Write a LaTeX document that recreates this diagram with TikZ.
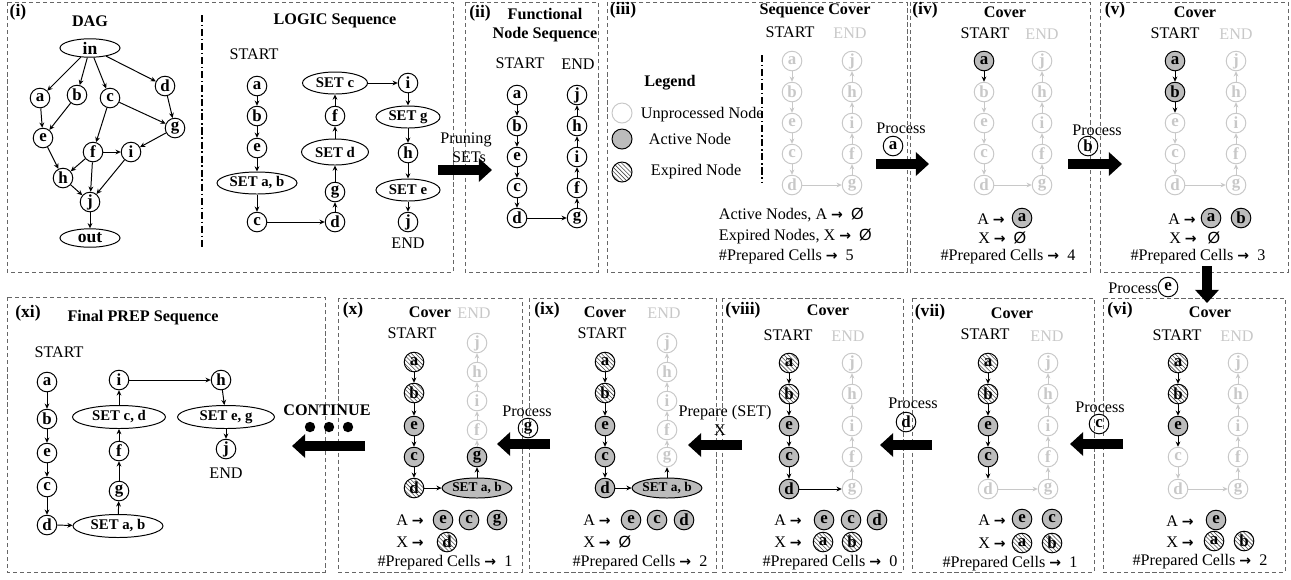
\documentclass[tikz,border=0pt]{standalone}
\usepackage{fontspec}
\setmainfont{Liberation Serif}
\newfontfamily\symfont{Liberation Sans}
\newfontfamily\arrfont{DejaVu Sans}
\usetikzlibrary{arrows.meta,shapes.geometric,patterns}

\definecolor{ugray}{RGB}{200,200,200}
\definecolor{agray}{RGB}{188,188,188}
\newcommand{\noset}{{\symfont Ø}}
\newcommand{\rarr}{{\arrfont\bfseries\fontsize{10}{10}\selectfont →}}

\begin{document}
\begin{tikzpicture}[x=0.25mm, y=-0.25mm,
    nd/.style={circle, draw, line width=0.7pt, minimum size=4.9mm, inner sep=0pt, font=\bfseries\fontsize{12}{12}\selectfont},
    unp/.style={nd, draw=ugray, text=ugray},
    actv/.style={nd, fill=agray},
    expd/.style={nd, pattern=north west lines, pattern color=black!70},
    setn/.style={ellipse, draw, line width=0.7pt, inner sep=0pt, minimum height=5.5mm, font=\bfseries\fontsize{10.5}{10.5}\selectfont},
    lk/.style={line width=0.7pt, -{Stealth[length=1.3mm, width=1.2mm]}},
    ulk/.style={lk, draw=ugray},
    bigarr/.style={line width=2.3mm, -{Triangle[length=3.3mm, width=5.8mm]}},
    panel/.style={draw=black!60, densely dashed, line width=0.5pt},
    sepline/.style={line width=0.8pt, dash pattern=on 5pt off 2pt on 1pt off 2pt},
    plbl/.style={font=\bfseries\fontsize{12.5}{12.5}\selectfont},
    ttl/.style={font=\bfseries\fontsize{11.5}{11.5}\selectfont},
    txt/.style={font=\fontsize{11.5}{11.5}\selectfont},
    utxt/.style={txt, text=ugray}]
  \useasboundingbox (0,0) rectangle (1291,579);

  % panel frames
  \draw[panel] (7,2) rectangle (453,272);
  \draw[panel] (465,2) rectangle (598,272);
  \draw[panel] (607,2) rectangle (907,272);
  \draw[panel] (910,2) rectangle (1090,272);
  \draw[panel] (1100,2) rectangle (1288,272);
  \draw[panel] (7,297) rectangle (325,572);
  \draw[panel] (338,298) rectangle (522,572);
  \draw[panel] (529,298) rectangle (716,572);
  \draw[panel] (722,298) rectangle (903,572);
  \draw[panel] (912,298) rectangle (1094,572);
  \draw[panel] (1103,298) rectangle (1285,572);

  % (i) DAG
  \node[plbl] (L1) at (18,12) {(i)};
  \node[ttl] (Tdag) at (90,21) {DAG};
  \node[setn, minimum width=15mm, minimum height=4.6mm, font=\bfseries\fontsize{12.5}{12.5}\selectfont] (Din) at (90,48) {in};
  \node[nd] (Da) at (40,98) {a};
  \node[nd] (Db) at (77,95) {b};
  \node[nd] (Dc) at (110,98) {c};
  \node[nd] (Dd) at (165,86) {d};
  \node[nd] (Dg) at (175,128) {g};
  \node[nd] (De) at (43,138) {e};
  \node[nd] (Df) at (93,152) {f};
  \node[nd] (Di) at (131,152) {i};
  \node[nd] (Dh) at (63,178) {h};
  \node[nd] (Dj) at (90,202) {j};
  \node[setn, minimum width=15mm, minimum height=4.6mm, font=\bfseries\fontsize{12.5}{12.5}\selectfont] (Dout) at (90,238) {out};
  \draw[lk] (Din) -- (Da);
  \draw[lk] (Din) -- (Db);
  \draw[lk] (Din) -- (Dc);
  \draw[lk] (Din) -- (Dd);
  \draw[lk] (Da) -- (De);
  \draw[lk] (Db) -- (De);
  \draw[lk] (Dc) -- (Df);
  \draw[lk] (Dc) -- (Dg);
  \draw[lk] (Dd) -- (Dg);
  \draw[lk] (De) -- (Dh);
  \draw[lk] (Df) -- (Dh);
  \draw[lk] (Df) -- (Di);
  \draw[lk] (Df) -- (Dj);
  \draw[lk] (Dg) -- (Di);
  \draw[lk] (Dh) -- (Dj);
  \draw[lk] (Di) -- (Dj);
  \draw[lk] (Dj) -- (Dout);
  \draw[sepline] (202,15) -- (202,247);

  % (i) LOGIC sequence
  \node[ttl] (Tlogic) at (335,21) {LOGIC Sequence};
  \node[txt] (Lstart) at (254,54) {START};
  \node[nd] (La) at (257,86) {a};
  \node[nd] (Lb) at (257,116) {b};
  \node[nd] (Le) at (257,148) {e};
  \node[setn, minimum width=20mm] (Lsab) at (257,183) {SET a, b};
  \node[nd] (Lc) at (257,222) {c};
  \node[nd] (Ld) at (335,222) {d};
  \node[nd] (Lg) at (335,192) {g};
  \node[setn, minimum width=16.75mm, minimum height=6.5mm] (Lsd) at (335,152) {SET d};
  \node[nd] (Lf) at (335,116) {f};
  \node[setn, minimum width=16.25mm] (Lsc) at (335,83) {SET c};
  \node[nd] (Li) at (408,83) {i};
  \node[setn, minimum width=16mm] (Lsg) at (408,117) {SET g};
  \node[nd] (Lh) at (408,153) {h};
  \node[setn, minimum width=16mm] (Lse) at (408,190) {SET e};
  \node[nd] (Lj) at (408,222) {j};
  \node[txt] (Lend) at (408,243) {END};
  \draw[lk] (La) -- (Lb);
  \draw[lk] (Lb) -- (Le);
  \draw[lk] (Le) -- (Lsab);
  \draw[lk] (Lsab) -- (Lc);
  \draw[lk] (Lc) -- (Ld);
  \draw[lk] (Ld) -- (Lg);
  \draw[lk] (Lg) -- (Lsd);
  \draw[lk] (Lsd) -- (Lf);
  \draw[lk] (Lf) -- (Lsc);
  \draw[lk] (Lsc) -- (Li);
  \draw[lk] (Li) -- (Lsg);
  \draw[lk] (Lsg) -- (Lh);
  \draw[lk] (Lh) -- (Lse);
  \draw[lk] (Lse) -- (Lj);

  % pruning
  \node[txt] (Tprune) at (466,140) {Pruning};
  \node[txt] (Tsets) at (469,157) {SETs};
  \coordinate (pr1) at (438,170);
  \coordinate (pr2) at (492,170);
  \draw[bigarr] (pr1) -- (pr2);

  % (ii)
  \node[plbl] (L2) at (480,13) {(ii)};
  \node[ttl, align=center] (Tfun) at (545,25) {Functional\\[2pt]Node Sequence};
  \node[txt] (Fstart) at (520,63) {START};
  \node[txt] (Fend) at (578,64) {END};
  \foreach \n/\y in {a/95,b/126,e/157,c/188,d/218}
    \node[nd] (F\n) at (517,\y) {\n};
  \foreach \n/\y in {j/95,h/126,i/157,f/188,g/218}
    \node[nd] (F\n) at (577,\y) {\n};
  \foreach \u/\v in {a/b,b/e,e/c,c/d,d/g,g/f,f/i,i/h,h/j}
    \draw[lk] (F\u) -- (F\v);

  % (iii)
  \node[plbl] (L3) at (623,10) {(iii)};
  \node[ttl] (Tseq) at (815,11) {Sequence Cover};
  \node[txt] (S3) at (790,32) {START};
  \node[utxt] (E3) at (850,33) {END};
  \foreach \n/\y in {a/61,b/92,e/123,c/154,d/185}
    \node[unp] (C3\n) at (792,\y) {\n};
  \foreach \n/\y in {j/61,h/92,i/123,f/154,g/185}
    \node[unp] (C3\n) at (852,\y) {\n};
  \foreach \u/\v in {a/b,b/e,e/c,c/d,d/g,g/f,f/i,i/h,h/j}
    \draw[ulk] (C3\u) -- (C3\v);
  \draw[sepline] (762,55) -- (762,182);
  \node[ttl] (Tleg) at (670,83) {Legend};
  \node[nd, draw=ugray, minimum size=5mm] (G1) at (622,113) {};
  \node[nd, fill=agray, minimum size=5mm] (G2) at (622,139) {};
  \node[nd, pattern=north west lines, pattern color=black!70, minimum size=5mm] (G3) at (622,172) {};
  \node[txt, anchor=west] (G1t) at (636,115) {Unprocessed Node};
  \node[txt, anchor=west] (G2t) at (644,139) {Active Node};
  \node[txt, anchor=west] (G3t) at (646,172) {Expired Node};
  \node[txt, anchor=west] (A3) at (714,215) {Active Nodes, A \rarr\enspace\noset};
  \node[txt, anchor=west] (X3) at (714,236) {Expired Nodes, X \rarr\enspace\noset};
  \node[txt, anchor=west] (P3) at (714,257) {\#Prepared Cells \rarr\enspace 5};

  % process a
  \node[txt] (Ta) at (901,128) {Process};
  \node[nd] (Pa) at (893,146) {a};
  \coordinate (pa1) at (876,164);
  \coordinate (pa2) at (929,164);
  \draw[bigarr] (pa1) -- (pa2);

  % (iv)
  \node[plbl] (L4) at (925,10) {(iv)};
  \node[ttl] (T4) at (1005,12) {Cover};
  \node[txt] (S4) at (985,33) {START};
  \node[utxt] (E4) at (1042,34) {END};
  \foreach \n/\y/\s in {a/61/actv,b/92/unp,e/123/unp,c/154/unp,d/185/unp}
    \node[\s] (C4\n) at (984,\y) {\n};
  \foreach \n/\y in {j/61,h/92,i/123,f/154,g/185}
    \node[unp] (C4\n) at (1042,\y) {\n};
  \foreach \u/\v/\s in {a/b/lk,b/e/ulk,e/c/ulk,c/d/ulk,d/g/ulk,g/f/ulk,f/i/ulk,i/h/ulk,h/j/ulk}
    \draw[\s] (C4\u) -- (C4\v);
  \node[txt] (A4) at (991,219) {A \rarr};
  \node[actv] (A4a) at (1022,218) {a};
  \node[txt] (X4) at (992,238) {X \rarr};
  \node[txt] (X4o) at (1020,238) {\noset};
  \node[txt] (P4) at (1008,257) {\#Prepared Cells \rarr\enspace 4};

  % process b
  \node[txt] (Tb) at (1097,130) {Process};
  \node[nd] (Pb) at (1088,146) {b};
  \coordinate (pb1) at (1068,164);
  \coordinate (pb2) at (1122,164);
  \draw[bigarr] (pb1) -- (pb2);

  % (v)
  \node[plbl] (L5) at (1115,10) {(v)};
  \node[ttl] (T5) at (1195,12) {Cover};
  \node[txt] (S5) at (1175,33) {START};
  \node[utxt] (E5) at (1236,34) {END};
  \foreach \n/\y/\s in {a/61/actv,b/92/actv,e/123/unp,c/154/unp,d/185/unp}
    \node[\s] (C5\n) at (1175,\y) {\n};
  \foreach \n/\y in {j/61,h/92,i/123,f/154,g/185}
    \node[unp] (C5\n) at (1236,\y) {\n};
  \foreach \u/\v/\s in {a/b/lk,b/e/lk,e/c/ulk,c/d/ulk,d/g/ulk,g/f/ulk,f/i/ulk,i/h/ulk,h/j/ulk}
    \draw[\s] (C5\u) -- (C5\v);
  \node[txt] (A5) at (1182,219) {A \rarr};
  \node[actv] (A5a) at (1211,218) {a};
  \node[actv] (A5b) at (1241,218) {b};
  \node[txt] (X5) at (1183,238) {X \rarr};
  \node[txt] (X5o) at (1214,238) {\noset};
  \node[txt] (P5) at (1198,257) {\#Prepared Cells \rarr\enspace 3};

  % process e
  \node[txt] (Te) at (1133,288) {Process};
  \node[nd] (Pe) at (1168,287) {e};
  \coordinate (pe1) at (1207,266);
  \coordinate (pe2) at (1207,303);
  \draw[bigarr] (pe1) -- (pe2);

  % (vi)
  \node[plbl] (L6) at (1120,310) {(vi)};
  \node[ttl] (T6) at (1210,312) {Cover};
  \node[txt] (S6) at (1177,335) {START};
  \node[utxt] (E6) at (1237,336) {END};
  \foreach \n/\y/\s in {a/363/expd,b/394/expd,e/426/actv,c/457/unp,d/489/unp}
    \node[\s] (C6\n) at (1178,\y) {\n};
  \foreach \n/\y in {j/363,h/394,i/426,f/457,g/489}
    \node[unp] (C6\n) at (1238,\y) {\n};
  \foreach \u/\v/\s in {a/b/lk,b/e/lk,e/c/lk,c/d/ulk,d/g/ulk,g/f/ulk,f/i/ulk,i/h/ulk,h/j/ulk}
    \draw[\s] (C6\u) -- (C6\v);
  \node[txt] (A6) at (1180,521) {A \rarr};
  \node[actv] (A6e) at (1216,520) {e};
  \node[txt] (X6) at (1180,542) {X \rarr};
  \node[expd] (X6a) at (1214,541) {a};
  \node[expd] (X6b) at (1244,541) {b};
  \node[txt] (P6) at (1200,562) {\#Prepared Cells \rarr\enspace 2};

  % process c
  \node[txt] (Tc) at (1100,407) {Process};
  \node[nd] (Pc) at (1099,424) {c};
  \coordinate (pc1) at (1123,444);
  \coordinate (pc2) at (1070,444);
  \draw[bigarr] (pc1) -- (pc2);

  % (vii)
  \node[plbl] (L7) at (930,312) {(vii)};
  \node[ttl] (T7) at (1012,313) {Cover};
  \node[txt] (S7) at (985,334) {START};
  \node[utxt] (E7) at (1047,336) {END};
  \foreach \n/\y/\s in {a/363/expd,b/394/expd,e/426/actv,c/457/actv,d/489/unp}
    \node[\s] (C7\n) at (988,\y) {\n};
  \foreach \n/\y in {j/363,h/394,i/426,f/457,g/489}
    \node[unp] (C7\n) at (1048,\y) {\n};
  \foreach \u/\v/\s in {a/b/lk,b/e/lk,e/c/lk,c/d/lk,d/g/ulk,g/f/ulk,f/i/ulk,i/h/ulk,h/j/ulk}
    \draw[\s] (C7\u) -- (C7\v);
  \node[txt] (A7) at (992,520) {A \rarr};
  \node[actv] (A7e) at (1022,519) {e};
  \node[actv] (A7c) at (1052,519) {c};
  \node[txt] (X7) at (992,543) {X \rarr};
  \node[expd] (X7a) at (1022,543) {a};
  \node[expd] (X7b) at (1052,543) {b};
  \node[txt] (P7) at (1010,564) {\#Prepared Cells \rarr\enspace 1};

  % process d
  \node[txt] (Td) at (913,403) {Process};
  \node[nd] (Pd) at (906,422) {d};
  \coordinate (pd1) at (932,445);
  \coordinate (pd2) at (880,445);
  \draw[bigarr] (pd1) -- (pd2);

  % (viii)
  \node[plbl] (L8) at (743,310) {(viii)};
  \node[ttl] (T8) at (828,310) {Cover};
  \node[txt] (S8) at (788,335) {START};
  \node[utxt] (E8) at (848,336) {END};
  \foreach \n/\y/\s in {a/363/expd,b/394/expd,e/426/actv,c/457/actv,d/489/actv}
    \node[\s] (C8\n) at (789,\y) {\n};
  \foreach \n/\y in {j/363,h/394,i/426,f/457,g/489}
    \node[unp] (C8\n) at (852,\y) {\n};
  \foreach \u/\v/\s in {a/b/lk,b/e/lk,e/c/lk,c/d/lk,d/g/lk,g/f/ulk,f/i/ulk,i/h/ulk,h/j/ulk}
    \draw[\s] (C8\u) -- (C8\v);
  \node[txt] (A8) at (788,520) {A \rarr};
  \node[actv] (A8e) at (824,520) {e};
  \node[actv] (A8c) at (851,520) {c};
  \node[actv] (A8d) at (877,520) {d};
  \node[txt] (X8) at (788,542) {X \rarr};
  \node[expd] (X8a) at (823,542) {a};
  \node[expd] (X8b) at (852,542) {b};
  \node[txt] (P8) at (830,563) {\#Prepared Cells \rarr\enspace 0};

  % prepare set
  \node[txt] (Tp) at (725,413) {Prepare (SET)};
  \node[txt] (Tx) at (720,430) {X};
  \coordinate (pp1) at (742,445);
  \coordinate (pp2) at (688,445);
  \draw[bigarr] (pp1) -- (pp2);

  % (ix)
  \node[plbl] (L9) at (547,310) {(ix)};
  \node[ttl] (T9) at (605,312) {Cover};
  \node[utxt] (E9) at (664,313) {END};
  \node[txt] (S9) at (602,333) {START};
  \foreach \n/\y/\s in {a/362/expd,b/393/expd,e/426/actv,c/457/actv,d/488/actv}
    \node[\s] (C9\n) at (605,\y) {\n};
  \foreach \n/\y in {j/343,h/372,i/401,f/430,g/457}
    \node[unp] (C9\n) at (667,\y) {\n};
  \node[setn, fill=agray, minimum width=15.75mm, minimum height=5mm, font=\bfseries\fontsize{9.5}{9.5}\selectfont] (C9s) at (667,488) {SET a, b};
  \foreach \u/\v/\s in {a/b/lk,b/e/lk,e/c/lk,c/d/lk,d/s/lk,s/g/lk,g/f/ulk,f/i/ulk,i/h/ulk,h/j/ulk}
    \draw[\s] (C9\u) -- (C9\v);
  \node[txt] (A9) at (597,520) {A \rarr};
  \node[actv] (A9e) at (631,520) {e};
  \node[actv] (A9c) at (657,520) {c};
  \node[actv] (A9d) at (684,520) {d};
  \node[txt] (X9) at (597,542) {X \rarr};
  \node[txt] (X9o) at (625,542) {\noset};
  \node[txt] (P9) at (640,563) {\#Prepared Cells \rarr\enspace 2};

  % process g
  \node[txt] (Tg) at (527,411) {Process};
  \node[nd] (Pg) at (528,428) {g};
  \coordinate (pg1) at (550,444);
  \coordinate (pg2) at (497,444);
  \draw[bigarr] (pg1) -- (pg2);

  % (x)
  \node[plbl] (L10) at (353,310) {(x)};
  \node[ttl] (T10) at (430,312) {Cover};
  \node[utxt] (E10) at (474,313) {END};
  \node[txt] (S10) at (412,333) {START};
  \foreach \n/\y/\s in {a/362/expd,b/393/expd,e/426/actv,c/457/actv,d/488/expd}
    \node[\s] (C10\n) at (414,\y) {\n};
  \foreach \n/\y/\s in {j/343/unp,h/372/unp,i/401/unp,f/430/unp,g/457/actv}
    \node[\s] (C10\n) at (477,\y) {\n};
  \node[setn, fill=agray, minimum width=15.75mm, minimum height=5mm, font=\bfseries\fontsize{9.5}{9.5}\selectfont] (C10s) at (477,488) {SET a, b};
  \foreach \u/\v/\s in {a/b/lk,b/e/lk,e/c/lk,c/d/lk,d/s/lk,s/g/lk,g/f/ulk,f/i/ulk,i/h/ulk,h/j/ulk}
    \draw[\s] (C10\u) -- (C10\v);
  \node[txt] (A10) at (410,520) {A \rarr};
  \node[actv] (A10e) at (443,520) {e};
  \node[actv] (A10c) at (469,520) {c};
  \node[actv] (A10g) at (497,520) {g};
  \node[txt] (X10) at (410,542) {X \rarr};
  \node[expd] (X10d) at (447,542) {d};
  \node[txt] (P10) at (445,563) {\#Prepared Cells \rarr\enspace 1};

  % continue
  \node[ttl] (Tcont) at (327,410) {CONTINUE};
  \node[circle, fill, inner sep=0pt, minimum size=2.6mm] (dot1) at (310,427) {};
  \node[circle, fill, inner sep=0pt, minimum size=2.6mm] (dot2) at (329,427) {};
  \node[circle, fill, inner sep=0pt, minimum size=2.6mm] (dot3) at (348,427) {};
  \coordinate (pk1) at (365,446);
  \coordinate (pk2) at (292,446);
  \draw[bigarr] (pk1) -- (pk2);

  % (xi) final PREP sequence
  \node[plbl] (L11) at (28,313) {(xi)};
  \node[ttl] (Tfin) at (143,318) {Final PREP Sequence};
  \node[txt] (Rstart) at (59,352) {START};
  \foreach \n/\y in {a/382,b/419,e/453,c/487,d/525}
    \node[nd] (R\n) at (47,\y) {\n};
  \node[setn, minimum width=22.5mm, minimum height=5.75mm] (Rsab) at (118,526) {SET a, b};
  \node[nd] (Rg) at (119,491) {g};
  \node[nd] (Rf) at (119,451) {f};
  \node[setn, minimum width=23.25mm, minimum height=5.75mm] (Rscd) at (119,417) {SET c, d};
  \node[nd] (Ri) at (119,380) {i};
  \node[nd] (Rh) at (221,380) {h};
  \node[setn, minimum width=24.25mm, minimum height=5.75mm] (Rseg) at (226,417) {SET e, g};
  \node[nd] (Rj) at (226,449) {j};
  \node[txt] (Rend) at (226,473) {END};
  \draw[lk] (Ra) -- (Rb);
  \draw[lk] (Rb) -- (Re);
  \draw[lk] (Re) -- (Rc);
  \draw[lk] (Rc) -- (Rd);
  \draw[lk] (Rd) -- (Rsab);
  \draw[lk] (Rsab) -- (Rg);
  \draw[lk] (Rg) -- (Rf);
  \draw[lk] (Rf) -- (Rscd);
  \draw[lk] (Rscd) -- (Ri);
  \draw[lk] (Ri) -- (Rh);
  \draw[lk] (Rh) -- (Rseg);
  \draw[lk] (Rseg) -- (Rj);
\end{tikzpicture}
\end{document}
